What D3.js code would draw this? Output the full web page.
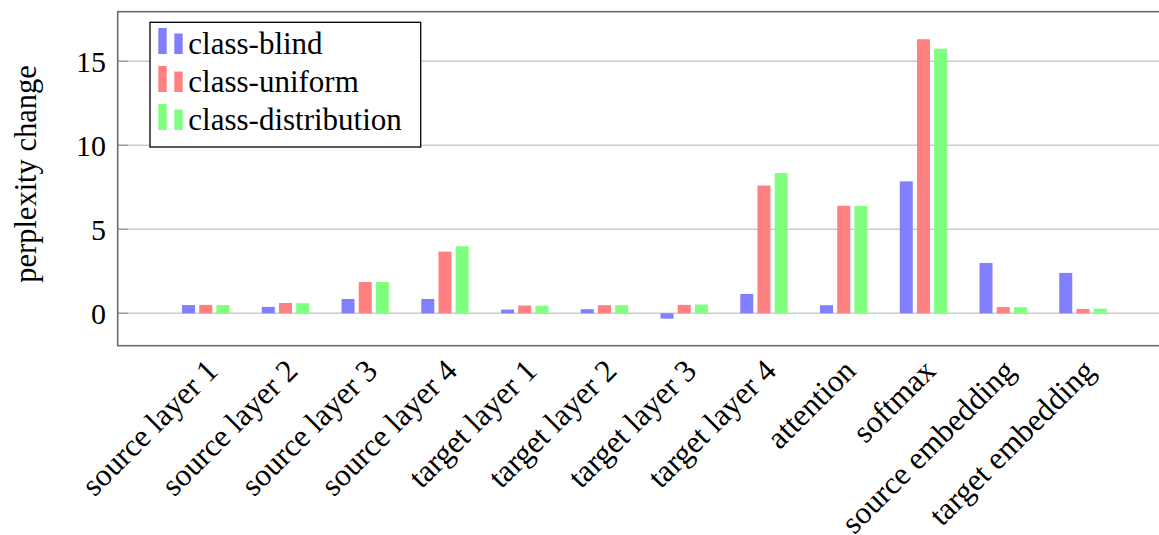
<!doctype html>
<html>
  <head>
    <meta charset='utf-8'>
    <script src="https://d3js.org/d3.v7.min.js"></script>
    <style>
      body { margin: 0; background: #fff; }
    </style>
  </head>

  <body>

  <svg width="1159" height="535"></svg>

  <script>
    const categories = ["source layer 1", "source layer 2", "source layer 3", "source layer 4",
      "target layer 1", "target layer 2", "target layer 3", "target layer 4",
      "attention", "softmax", "source embedding", "target embedding"];
    const seriesNames = ["class-blind", "class-uniform", "class-distribution"];
    const classBlind = [0.49, 0.38, 0.85, 0.85, 0.22, 0.24, -0.32, 1.15, 0.48, 7.85, 2.99, 2.40];
    const classUniform = [0.50, 0.61, 1.86, 3.67, 0.46, 0.48, 0.50, 7.60, 6.40, 16.31, 0.37, 0.26];
    const classDistribution = [0.49, 0.60, 1.86, 3.99, 0.45, 0.48, 0.52, 8.35, 6.38, 15.75, 0.36, 0.28];
    const yTicks = [0, 5, 10, 15];
    const colors = ["#8080ff", "#ff8080", "#80ff80"];

    const values = [classBlind, classUniform, classDistribution];
    const rows = categories.map((c, i) => ({
      cat: c,
      vals: seriesNames.map((s, j) => ({series: s, value: values[j][i]}))
    }));

    const plotL = 117.7, plotR = 1171, plotT = 11.7, plotB = 345.7;
    const serif = "Liberation Serif";

    const svg = d3.select("svg");

    const x = d3.scalePoint()
      .domain(categories)
      .range([plotL, plotR])
      .padding(1.104);

    const xInner = d3.scaleBand()
      .domain(seriesNames)
      .range([-23.7, 23.7])
      .paddingInner(0.244);

    const y = d3.scaleLinear()
      .domain([-1.93, 17.95])
      .range([plotB, plotT]);

    // grid
    svg.selectAll(".grid")
      .data(yTicks)
      .enter()
        .append("line")
          .attr("class", "grid")
          .attr("x1", plotL)
          .attr("x2", plotR)
          .attr("y1", (d) => y(d))
          .attr("y2", (d) => y(d))
          .style("stroke", "#cccccc")
          .style("stroke-width", "1.3px");

    svg.selectAll(".ytick")
      .data(yTicks)
      .enter()
        .append("line")
          .attr("x1", plotL)
          .attr("x2", plotL + 10)
          .attr("y1", (d) => y(d))
          .attr("y2", (d) => y(d))
          .style("stroke", "#999")
          .style("stroke-width", "1.3px");

    // bars
    const groups = svg.selectAll(".group")
      .data(rows)
      .enter()
        .append("g")
          .attr("class", "group")
          .attr("transform", (d) => `translate(${x(d.cat)},0)`);

    groups.selectAll("rect")
      .data((d) => d.vals)
      .enter()
        .append("rect")
          .attr("x", (d) => xInner(d.series))
          .attr("width", xInner.bandwidth())
          .attr("y", (d) => y(Math.max(0, d.value)))
          .attr("height", (d) => Math.abs(y(d.value) - y(0)))
          .style("fill", (_, i) => colors[i]);

    // frame
    svg.append("rect")
      .attr("x", plotL)
      .attr("y", plotT)
      .attr("width", plotR - plotL)
      .attr("height", plotB - plotT)
      .style("fill", "none")
      .style("stroke", "#6e6e6e")
      .style("stroke-width", "1.6px");

    // y tick labels
    svg.selectAll(".ylabel")
      .data(yTicks)
      .enter()
        .append("text")
          .attr("x", 106)
          .attr("y", (d) => y(d))
          .attr("dy", "0.35em")
          .attr("text-anchor", "end")
          .attr("font-family", serif)
          .attr("font-size", 30)
          .text((d) => d);

    svg.append("text")
      .attr("transform", `translate(36,174) rotate(-90)`)
      .attr("text-anchor", "middle")
      .attr("font-family", serif)
      .attr("font-size", 30.5)
      .text("perplexity change");

    // x labels
    svg.selectAll(".xlabel")
      .data(categories)
      .enter()
        .append("text")
          .attr("transform", (d) => `translate(${x(d) + 6},${plotB + 19}) rotate(-45)`)
          .attr("text-anchor", "end")
          .attr("dy", "0.35em")
          .attr("font-family", serif)
          .attr("font-size", 31.5)
          .text((d) => d);

    // legend
    const legend = svg.append("g");
    legend.append("rect")
      .attr("x", 150)
      .attr("y", 22.3)
      .attr("width", 270.7)
      .attr("height", 124.7)
      .style("fill", "#fff")
      .style("stroke", "#000")
      .style("stroke-width", "1.3px");

    const legendRows = legend.selectAll(".lrow")
      .data(seriesNames)
      .enter()
        .append("g")
          .attr("transform", (_, i) => `translate(0,${54 + i * 38})`);

    legendRows.append("rect")
      .attr("x", 158.3).attr("width", 8.4)
      .attr("y", -26).attr("height", 26)
      .style("fill", (_, i) => colors[i]);
    legendRows.append("rect")
      .attr("x", 174.3).attr("width", 8.4)
      .attr("y", -20.5).attr("height", 20.5)
      .style("fill", (_, i) => colors[i]);
    legendRows.append("text")
      .attr("x", 188.3)
      .attr("y", 0)
      .attr("font-family", serif)
      .attr("font-size", 31)
      .text((d) => d);
  </script>
  </body>
</html>
